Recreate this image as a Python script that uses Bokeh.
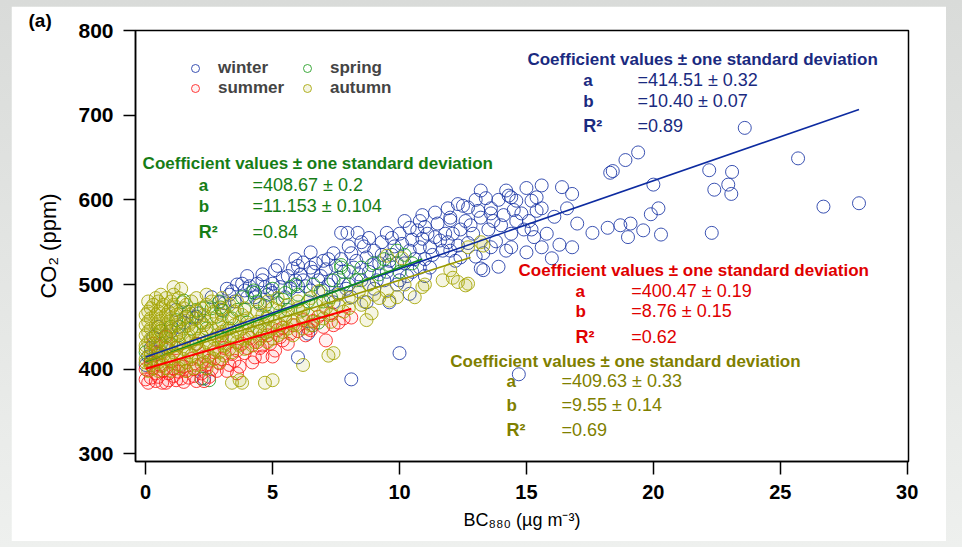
from bokeh.plotting import figure
from bokeh.models import Label, Legend, LegendItem, ColumnDataSource, FixedTicker, Range1d
from bokeh.layouts import column
from bokeh.embed import file_html
from bokeh.resources import INLINE

# ---------------- data ----------------
x_ticks = [0, 5, 10, 15, 20, 25, 30]
y_ticks = [300, 400, 500, 600, 700, 800]

winter_pts = [
    (0.0, 405), (0.1, 415), (0.2, 425), (0.3, 438), (0.6, 430), (1.0, 445), (1.2, 470), (1.5, 455),
    (1.85, 461), (2.0, 462), (2.1, 466), (2.3, 389), (2.6, 485), (2.9, 479), (3.0, 470), (3.2, 495),
    (3.3, 488), (3.5, 480), (3.8, 501), (4.0, 485), (4.0, 510), (4.2, 491), (4.4, 501), (4.5, 478),
    (4.6, 505), (4.6, 512), (4.9, 493), (5.0, 490), (5.0, 501), (5.1, 517), (5.2, 522), (5.4, 508),
    (5.5, 485), (5.7, 495), (5.8, 519), (6.0, 414), (6.0, 498), (6.0, 522), (6.2, 505), (6.2, 526),
    (6.4, 442), (6.5, 493), (6.5, 520), (6.6, 515), (6.8, 505), (7.0, 493), (7.0, 528), (7.2, 500),
    (7.2, 530), (7.4, 479), (7.4, 537), (7.6, 508), (7.7, 561), (7.8, 515), (7.95, 561), (8.1, 388),
    (8.1, 485), (8.1, 537), (8.2, 520), (8.35, 561), (8.5, 505), (8.7, 479), (8.7, 532), (8.8, 515),
    (9.0, 540), (9.2, 525), (9.4, 505), (9.5, 561), (9.6, 479), (9.6, 528), (9.8, 545), (10.0, 419),
    (10.0, 505), (10.0, 560), (10.2, 525), (10.4, 489), (10.4, 540), (10.4, 567), (10.7, 564),
    (10.8, 544), (10.9, 554), (10.9, 582), (11.0, 530), (11.1, 560), (11.2, 544), (11.5, 572),
    (11.6, 552), (11.8, 560), (12.0, 540), (12.0, 576), (12.0, 579), (12.3, 546), (12.4, 565),
    (12.5, 593), (12.7, 549), (12.7, 591), (13.1, 587), (13.2, 519), (13.2, 579), (13.2, 611),
    (13.3, 517), (13.3, 537), (13.4, 602), (13.6, 544), (13.6, 584), (13.6, 590), (13.9, 521),
    (14.1, 582), (14.2, 611), (14.3, 605), (14.4, 544), (14.4, 560), (14.4, 603), (14.6, 599),
    (14.7, 394), (14.8, 584), (15.0, 538), (15.0, 614), (15.2, 599), (15.3, 556), (15.4, 587),
    (15.4, 603), (15.6, 544), (15.6, 590), (15.6, 617), (16.0, 531), (16.3, 547), (16.4, 615),
    (16.8, 544), (16.8, 607), (17.0, 572), (17.6, 561), (18.2, 567), (18.3, 632), (18.4, 634),
    (18.7, 570), (18.9, 647), (19.0, 556), (19.1, 572), (19.4, 656), (19.6, 564), (19.9, 583),
    (20.0, 618), (20.2, 590), (20.3, 559), (22.2, 635), (22.3, 561), (22.4, 612), (22.95, 618),
    (23.07, 607), (23.1, 633), (23.6, 685), (25.7, 649), (26.7, 592), (28.1, 596),
    (3.1, 478), (3.4, 492), (3.6, 500), (3.9, 493), (4.1, 498), (4.3, 485), (4.7, 497), (4.8, 488),
    (5.3, 497), (5.6, 510), (5.9, 505), (6.1, 512), (6.3, 498), (6.7, 525), (6.9, 510), (7.1, 518),
    (7.3, 505), (7.5, 522), (7.7, 530), (7.9, 495), (8.0, 545), (8.3, 528), (8.4, 512), (8.6, 545),
    (8.9, 523), (9.1, 505), (9.3, 550), (9.5, 515), (9.7, 535), (9.9, 525), (10.1, 548), (10.3, 510),
    (10.5, 553), (10.6, 530), (10.8, 520), (11.0, 568), (11.3, 535), (11.4, 556), (11.7, 540),
    (11.9, 590), (12.1, 560), (12.2, 528), (12.6, 575), (12.9, 560), (13.0, 533), (13.5, 565),
    (13.8, 551), (14.0, 570), (14.2, 540), (14.5, 588), (14.9, 565), (15.1, 575), (15.8, 560),
    (16.1, 580), (16.6, 590), (0.4, 420), (0.8, 440), (1.3, 450), (1.7, 468), (0.5, 450),
    (8.0, 500), (8.5, 550), (9.0, 495), (9.3, 535), (9.7, 555), (10.2, 575), (10.5, 515), (10.8, 575),
    (11.2, 520), (11.4, 585), (11.9, 550), (12.3, 595), (12.8, 570), (13.0, 600), (13.7, 575),
    (13.9, 600), (14.6, 575), (15.2, 565), (11.0, 510), (12.4, 532), (9.9, 500), (7.6, 490),
    (6.5, 538), (5.9, 530), (8.8, 555),
]

spring_pts = [
    (0.0, 420), (0.2, 410), (0.4, 440), (0.5, 418), (0.8, 425), (1.0, 430), (1.0, 450), (1.3, 440),
    (1.45, 479), (1.5, 481), (1.8, 448), (2.0, 430), (2.2, 389), (2.2, 455), (2.3, 472), (2.5, 387),
    (2.6, 472), (2.8, 462), (2.95, 473), (3.0, 437), (3.05, 469), (3.3, 448), (3.6, 470), (3.8, 485),
    (4.0, 455), (4.25, 493), (4.4, 480), (4.5, 445), (4.8, 462), (5.2, 478), (5.5, 490), (5.6, 470),
    (5.7, 497), (6.0, 488), (6.4, 480), (6.6, 452), (6.8, 455), (6.9, 492), (7.3, 485), (7.7, 520),
    (7.7, 523), (7.8, 500), (8.3, 505), (8.8, 500), (9.2, 512), (9.6, 523), (9.9, 540), (10.0, 515),
    (10.5, 525), (0.6, 445), (1.2, 458), (1.6, 462), (2.0, 470), (2.4, 448), (2.9, 480), (3.4, 460),
    (3.9, 470), (4.3, 490), (4.7, 475), (5.0, 495), (5.4, 482), (5.9, 500), (6.2, 470), (6.6, 500),
    (7.0, 480), (7.4, 505), (8.0, 515), (8.5, 520), (9.0, 525), (9.4, 530), (10.2, 535),
]

summer_pts = [
    (0.0, 400), (0.1, 384), (0.2, 408), (0.3, 430), (0.4, 386), (0.4, 395), (0.5, 420), (0.6, 404),
    (0.65, 384), (0.8, 438), (0.9, 387), (0.9, 395), (1.0, 410), (1.2, 387), (1.2, 425), (1.3, 397),
    (1.4, 405), (1.5, 385), (1.6, 398), (1.7, 390), (1.8, 412), (2.0, 386), (2.0, 430), (2.2, 395),
    (2.3, 415), (2.4, 405), (2.6, 400), (2.7, 420), (2.9, 407), (3.0, 440), (3.1, 425), (3.2, 398),
    (3.4, 418), (3.5, 410), (3.7, 403), (3.8, 430), (3.9, 419), (4.1, 437), (4.3, 414), (4.5, 425),
    (4.6, 428), (4.8, 440), (5.1, 422), (5.2, 446), (5.4, 434), (5.4, 449), (5.7, 442), (5.8, 452),
    (6.2, 458), (6.4, 448), (6.5, 446), (6.8, 462), (7.1, 434), (7.4, 452), (7.6, 455), (8.1, 461),
    (0.2, 390), (0.5, 391), (0.8, 384), (1.1, 392), (1.4, 389), (1.9, 392), (2.3, 386), (2.5, 391),
    (0.0, 388), (0.3, 402), (0.7, 398), (1.1, 401), (1.5, 403), (1.9, 400), (2.2, 406), (2.5, 410),
    (2.8, 398), (3.0, 412), (3.3, 405), (3.6, 422), (4.0, 425), (4.2, 408), (4.4, 432), (4.9, 430),
    (5.0, 415), (5.3, 438), (5.6, 430), (6.0, 445), (6.3, 440), (6.6, 457), (7.0, 450), (7.3, 466),
    (7.8, 460), (3.6, 395), (4.6, 415),
]

autumn_pts = [
    (0.1, 398), (0.5, 398), (1.0, 398), (1.6, 398),
    (0.3, 401), (0.8, 401), (1.3, 401), (1.9, 401), (2.4, 401),
    (0.2, 405), (0.7, 405), (1.3, 405), (2.0, 405),
    (0.0, 408), (0.5, 408), (1.0, 408), (1.6, 408), (2.3, 408), (2.9, 408),
    (0.0, 412), (0.4, 412), (0.9, 412), (1.5, 412), (2.1, 412), (2.7, 412),
    (0.2, 416), (0.7, 416), (1.2, 416), (1.8, 416), (2.5, 416), (3.1, 416),
    (0.2, 420), (0.6, 420), (1.1, 420), (1.7, 420), (2.3, 420), (2.9, 420), (3.4, 420),
    (0.0, 424), (0.4, 424), (0.9, 424), (1.5, 424), (2.1, 424), (2.7, 424), (3.3, 424), (3.9, 424),
    (0.0, 428), (0.4, 428), (0.8, 428), (1.3, 428), (1.9, 428), (2.5, 428), (3.1, 428), (3.7, 428), (4.2, 428),
    (0.1, 432), (0.5, 432), (0.9, 432), (1.3, 432), (1.8, 432), (2.4, 432), (3.0, 432), (3.6, 432), (4.3, 432), (4.8, 432),
    (0.2, 436), (0.6, 436), (1.0, 436), (1.5, 436), (2.1, 436), (2.7, 436), (3.3, 436), (3.9, 436), (4.5, 436), (5.0, 436),
    (0.0, 440), (0.4, 440), (0.8, 440), (1.2, 440), (1.7, 440), (2.2, 440), (2.8, 440), (3.4, 440), (4.0, 440), (4.6, 440), (5.2, 440), (5.8, 440),
    (0.1, 444), (0.5, 444), (0.9, 444), (1.4, 444), (1.9, 444), (2.4, 444), (3.0, 444), (3.6, 444), (4.2, 444), (4.8, 444), (5.4, 444),
    (0.2, 448), (0.6, 448), (1.0, 448), (1.5, 448), (2.0, 448), (2.6, 448), (3.2, 448), (3.8, 448), (4.4, 448), (5.0, 448), (5.6, 448), (6.2, 448),
    (0.0, 452), (0.4, 452), (0.8, 452), (1.2, 452), (1.7, 452), (2.3, 452), (2.9, 452), (3.5, 452), (4.1, 452), (4.7, 452), (5.3, 452), (5.9, 452), (6.5, 452),
    (0.1, 456), (0.5, 456), (0.9, 456), (1.3, 456), (1.8, 456), (2.4, 456), (3.0, 456), (3.7, 456), (4.4, 456), (5.1, 456), (5.8, 456), (6.6, 456), (7.3, 456),
    (0.2, 460), (0.6, 460), (1.0, 460), (1.5, 460), (2.0, 460), (2.6, 460), (3.3, 460), (4.0, 460), (4.8, 460), (5.5, 460), (6.2, 460), (7.0, 460),
    (0.0, 464), (0.4, 464), (0.8, 464), (1.2, 464), (1.7, 464), (2.3, 464), (3.0, 464), (3.8, 464), (4.6, 464), (5.5, 464), (6.4, 464), (7.3, 464),
    (0.1, 468), (0.5, 468), (0.9, 468), (1.4, 468), (2.0, 468), (2.7, 468), (3.5, 468), (4.4, 468), (5.3, 468), (6.1, 468), (7.0, 468), (7.8, 468),
    (0.2, 472), (0.6, 472), (1.0, 472), (1.5, 472), (2.2, 472), (3.0, 472), (3.9, 472), (5.0, 472), (6.0, 472), (7.1, 472), (8.0, 472),
    (0.3, 476), (0.7, 476), (1.1, 476), (1.6, 476), (2.4, 476), (3.3, 476), (4.5, 476), (5.6, 476), (6.7, 476), (7.6, 476), (8.5, 476),
    (0.1, 480), (0.5, 480), (1.0, 480), (1.8, 480), (2.6, 480), (3.6, 480), (4.8, 480), (6.0, 480), (7.2, 480), (8.6, 480),
    (0.4, 484), (0.8, 484), (1.3, 484), (2.0, 484), (3.0, 484), (5.2, 484), (6.5, 484), (8.0, 484), (9.2, 484),
    (0.6, 488), (1.1, 488), (2.4, 488), (7.6, 488), (9.0, 488),
    (6.8, 492), (8.4, 492), (9.5, 492),
    (8.8, 500), (10.2, 500), (11.0, 500),
    (1.1, 497), (1.4, 495), (3.4, 384), (3.7, 387), (3.8, 384), (4.7, 384), (5.0, 387), (6.2, 405),
    (7.2, 416), (7.4, 419), (8.7, 458), (8.9, 466), (9.6, 481), (9.9, 485), (10.6, 485), (10.9, 497),
    (11.7, 505), (12.1, 508), (12.6, 499), (12.0, 517), (12.3, 503), (12.7, 501), (9.5, 534),
    (10.1, 531), (12.7, 544), (13.2, 550), (13.3, 546),
]

# fit coefficients (a, b) and the BC range over which each fit line is drawn
fit_a = {"winter": 414.51, "spring": 408.67, "summer": 400.47, "autumn": 409.63}
fit_b = {"winter": 10.40, "spring": 11.153, "summer": 8.76, "autumn": 9.55}
fit_xmax = {"winter": 28.1, "spring": 10.9, "summer": 8.1, "autumn": 12.8}

coef_a_txt = {"winter": "=414.51 \u00b1 0.32", "spring": "=408.67 \u00b1 0.2",
              "summer": "=400.47 \u00b1 0.19", "autumn": "=409.63 \u00b1 0.33"}
coef_b_txt = {"winter": "=10.40 \u00b1 0.07", "spring": "=11.153 \u00b1 0.104",
              "summer": "=8.76 \u00b1 0.15", "autumn": "=9.55 \u00b1 0.14"}
r2_txt = {"winter": "=0.89", "spring": "=0.84", "summer": "=0.62", "autumn": "=0.69"}

# ---------------- styles ----------------
marker_color = {"winter": "#1a35a5", "spring": "#1c9a1c", "summer": "#ff1a1a", "autumn": "#a3a300"}
marker_fill_alpha = {"winter": 0.0, "spring": 0.0, "summer": 0.06, "autumn": 0.11}
line_color = {"winter": "#0d2ba0", "spring": "#10901a", "summer": "#ff0000", "autumn": "#9a9a00"}
text_color = {"winter": "#1a2a80", "spring": "#167d16", "summer": "#e00000", "autumn": "#7f7f00"}
FONT = "Liberation Sans"

p = figure(width=935, height=535, x_range=Range1d(-0.4, 30.05), y_range=Range1d(291, 800),
           output_backend="svg", toolbar_location=None,
           min_border_left=124, min_border_right=38, min_border_top=24, min_border_bottom=80)
p.margin = (6, 16, 6, 11)
p.grid.visible = False
p.background_fill_color = "white"
p.border_fill_color = "white"
p.outline_line_color = "black"
p.outline_line_width = 1.5

p.title.text = "(a)"
p.title.align = "left"
p.title.offset = -107
p.title.standoff = 0
p.title.text_font = FONT
p.title.text_font_size = "19px"
p.title.text_font_style = "bold"
p.title.text_color = "black"

for ax in (p.xaxis[0], p.yaxis[0]):
    ax.axis_line_width = 1.5
    ax.major_tick_line_width = 1.5
    ax.major_tick_in = 0
    ax.minor_tick_line_color = None
    ax.axis_label_text_font_style = "normal"
    ax.axis_label_text_color = "black"
    ax.major_label_text_font_style = "bold"
    ax.major_label_text_color = "black"
    ax.major_label_text_font = FONT
    ax.axis_label_text_font = FONT

p.xaxis.ticker = FixedTicker(ticks=x_ticks)
p.yaxis.ticker = FixedTicker(ticks=y_ticks)
p.yaxis.major_tick_out = 12
p.xaxis.major_tick_out = 13
p.yaxis.major_label_text_font_size = "21px"
p.yaxis.major_label_standoff = 10
p.xaxis.major_label_text_font_size = "20px"
p.xaxis.major_label_standoff = 10
p.yaxis.axis_label = "CO\u2082 (ppm)"
p.yaxis.axis_label_text_font_size = "22px"
p.yaxis.axis_label_standoff = 14
p.xaxis.axis_label = "BC\u2088\u2088\u2080 (\u00b5g m\u207b\u00b3)"
p.xaxis.axis_label_text_font_size = "18px"
p.xaxis.axis_label_standoff = 8

pts = {"winter": winter_pts, "spring": spring_pts, "summer": summer_pts, "autumn": autumn_pts}
rend = {}
for s in ["winter", "spring", "summer", "autumn"]:
    xs = [a for a, _ in pts[s]]
    ys = [b for _, b in pts[s]]
    src = ColumnDataSource(dict(x=xs, y=ys))
    rend[s] = p.scatter("x", "y", source=src, marker="circle", size=13,
                        fill_color=marker_color[s], fill_alpha=marker_fill_alpha[s],
                        line_color=marker_color[s], line_width=1, line_alpha=0.85)

for s in ["winter", "spring", "summer", "autumn"]:
    x1 = fit_xmax[s]
    p.line([0, x1], [fit_a[s], fit_a[s] + fit_b[s] * x1], line_color=line_color[s],
           line_width=2 if s == "summer" else 1.6)

legend = Legend(items=[LegendItem(label="winter", renderers=[rend["winter"]]),
                       LegendItem(label="summer", renderers=[rend["summer"]]),
                       LegendItem(label="spring", renderers=[rend["spring"]]),
                       LegendItem(label="autumn", renderers=[rend["autumn"]])],
                ncols=2, location=(50, 363), orientation="vertical")
legend.background_fill_alpha = 0
legend.border_line_alpha = 0
legend.label_text_font = FONT
legend.label_text_font_style = "bold"
legend.label_text_font_size = "17px"
legend.glyph_width = 20
legend.glyph_height = 20
legend.spacing = 0
legend.padding = 0
legend.margin = 0
legend.label_standoff = 13
legend.label_width = 79
legend.label_height = 20
p.add_layout(legend, "center")

# annotation blocks: (title x, title y, row x, value x, a y, b y, R2 y) in data units
blocks = {
    "winter": (15.04, 765.8, 17.24, 19.37, 741.0, 716.2, 686.7),
    "spring": (-0.12, 643.0, 2.09, 4.21, 617.0, 592.2, 561.5),
    "summer": (14.69, 516.7, 16.93, 19.13, 491.9, 468.3, 437.6),
    "autumn": (12.00, 409.2, 14.21, 16.38, 385.6, 357.3, 327.8),
}
for s, (tx, ty, rx, vx, ay, by, ry) in blocks.items():
    c = text_color[s]
    common = dict(text_color=c, text_font=FONT, text_baseline="middle")
    p.add_layout(Label(x=tx, y=ty, text="Coefficient values \u00b1 one standard deviation",
                       text_font_style="bold", text_font_size="17px", **common))
    p.add_layout(Label(x=rx, y=ay, text="a", text_font_style="bold", text_font_size="17px", **common))
    p.add_layout(Label(x=rx, y=by, text="b", text_font_style="bold", text_font_size="17px", **common))
    p.add_layout(Label(x=rx, y=ry, text="R\u00b2", text_font_style="bold", text_font_size="18px", **common))
    p.add_layout(Label(x=vx, y=ay, text=coef_a_txt[s], text_font_size="18px", **common))
    p.add_layout(Label(x=vx, y=by, text=coef_b_txt[s], text_font_size="18px", **common))
    p.add_layout(Label(x=vx, y=ry, text=r2_txt[s], text_font_size="18px", **common))

page = column(p, styles={"background": "linear-gradient(to bottom, #d9dbd9, #eef0ee)"})

open("out.html", "w").write(file_html(page, INLINE))
